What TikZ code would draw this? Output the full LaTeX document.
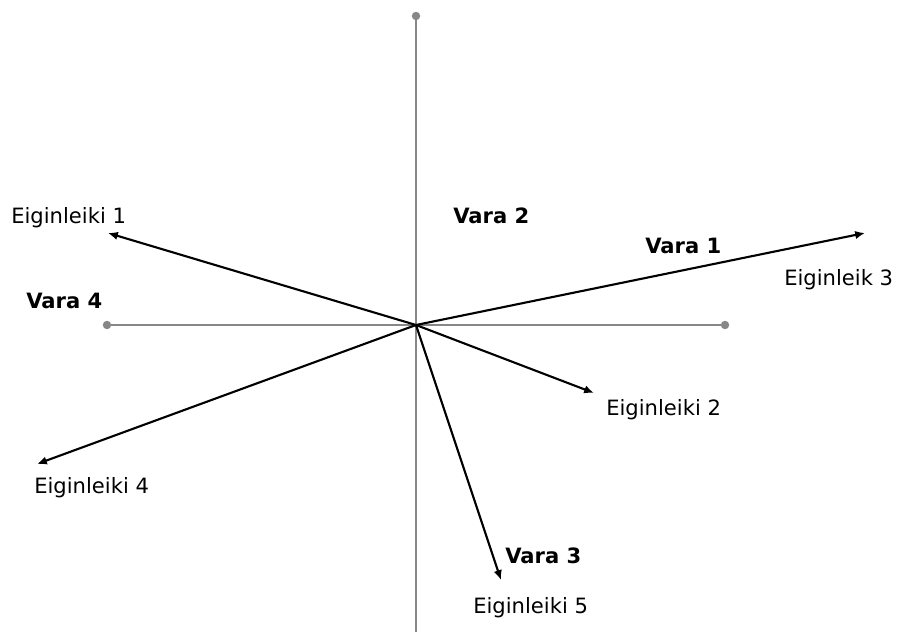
\documentclass[tikz,border=0pt]{standalone}
\usepackage{fontspec}
\setmainfont{DejaVu Sans}
\usetikzlibrary{arrows.meta}
\usetikzlibrary{positioning}
\definecolor{axisgray}{RGB}{135,135,135}
\tikzset{axis/.style = {draw=axisgray, line width=2pt},
         vec/.style = {draw=black, line width=1.5pt,
                       -{Latex[length=7pt, width=6pt]}},
         enddot/.style = {circle, fill=axisgray, inner sep=0pt, minimum size=6pt},
         lbl/.style = {anchor=base west, inner sep=0pt, font=\fontsize{15}{18}\selectfont},
         vara/.style = {lbl, font=\fontsize{15}{18}\selectfont\bfseries}}

\begin{document}
\begin{tikzpicture}[x=0.025cm, y=-0.025cm]
    \useasboundingbox (0, 0) rectangle (897, 633);
    \coordinate (o) at (416, 325);
    \node [enddot] (top) at (416, 16) {};
    \coordinate (bottom) at (416, 632);
    \node [enddot] (left) at (107, 325) {};
    \node [enddot] (right) at (725, 325) {};
    \draw [axis] (top.center) -- (bottom);
    \draw [axis] (left.center) -- (right.center);

    \coordinate (e1) at (108, 233);
    \coordinate (e2) at (594, 393);
    \coordinate (e3) at (865, 233);
    \coordinate (e4) at (37, 464);
    \coordinate (e5) at (501, 580);
    \draw [vec] (o) -- (e1);
    \draw [vec] (o) -- (e2);
    \draw [vec] (o) -- (e3);
    \draw [vec] (o) -- (e4);
    \draw [vec] (o) -- (e5);

    \node [lbl] (eig1) at (11, 223) {Eiginleiki 1};
    \node [lbl] (eig2) at (606, 415) {Eiginleiki 2};
    \node [lbl] (eig3) at (784, 285) {Eiginleik 3};
    \node [lbl] (eig4) at (34, 493) {Eiginleiki 4};
    \node [lbl] (eig5) at (473, 613) {Eiginleiki 5};

    \node [vara] (vara1) at (645, 253) {Vara 1};
    \node [vara] (vara2) at (453, 223) {Vara 2};
    \node [vara] (vara3) at (505, 563) {Vara 3};
    \node [vara] (vara4) at (26, 308) {Vara 4};
  \end{tikzpicture}
\end{document}
